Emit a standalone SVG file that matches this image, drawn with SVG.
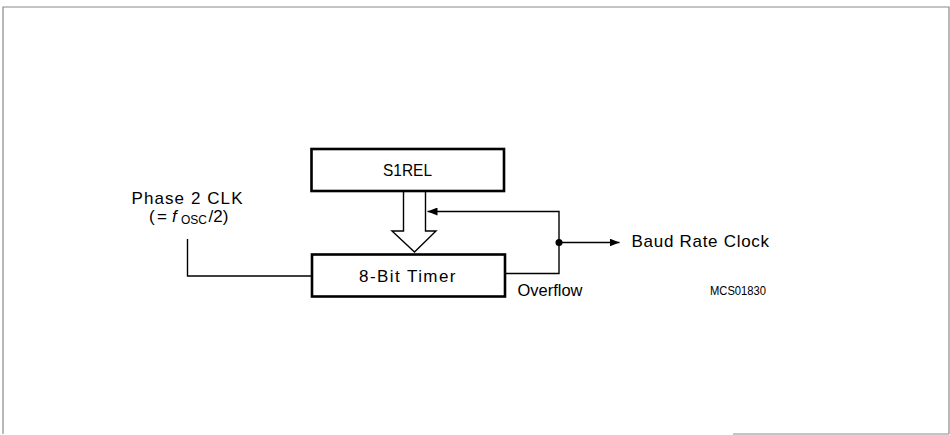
<svg xmlns="http://www.w3.org/2000/svg" width="950" height="435" viewBox="0 0 950 435">
  <defs>
    <marker id="arr" viewBox="0 0 10 8" refX="10" refY="4" markerWidth="10" markerHeight="8" markerUnits="userSpaceOnUse" orient="auto">
      <path d="M0,0 L10,4 L0,8 Z" fill="#000"/>
    </marker>
  </defs>
  <style>
    .box { fill: #fff; stroke: #000; stroke-width: 2.6; }
    .wire { fill: none; stroke: #000; stroke-width: 1.4; }
    .lbl { font-family: "Liberation Sans", Arial, sans-serif; font-size: 17px; fill: #000; }
    .frame { fill: none; stroke: #8a8a8a; stroke-width: 1.2; }
  </style>
  <rect width="950" height="435" fill="#fff"/>
  <!-- frame -->
  <path class="frame" d="M3,434 L3,7 L949,7 L949,434 M733,434 L949,434"/>

  <g id="s1rel">
    <rect class="box" x="311.5" y="149" width="192.5" height="42"/>
    <text class="lbl" x="383" y="176" textLength="49" lengthAdjust="spacingAndGlyphs">S1REL</text>
  </g>

  <g id="timer">
    <rect class="box" x="312" y="254.5" width="193" height="42"/>
    <text class="lbl" x="359" y="281.5" textLength="96.5" lengthAdjust="spacing">8-Bit Timer</text>
  </g>

  <g id="phase-clk">
    <text class="lbl" x="131.5" y="204" textLength="111" lengthAdjust="spacing">Phase 2 CLK</text>
    <text class="lbl" y="221.5"><tspan x="149">(</tspan><tspan x="157">=</tspan><tspan x="172" font-style="italic">f</tspan><tspan x="181" y="223.5" style="font-size:12px">OSC</tspan><tspan x="208.5" y="221.5">/2)</tspan></text>
  </g>

  <g id="baud">
    <text class="lbl" x="631.5" y="246.5" textLength="137.5" lengthAdjust="spacing">Baud Rate Clock</text>
  </g>

  <g id="overflow-label">
    <text class="lbl" x="517.5" y="295.5" textLength="65" lengthAdjust="spacingAndGlyphs">Overflow</text>
  </g>

  <g id="figure-id">
    <text class="lbl" x="710" y="295" style="font-size:13.5px" textLength="56" lengthAdjust="spacingAndGlyphs">MCS01830</text>
  </g>

  <g id="connectors">
    <!-- hollow data arrow S1REL -> timer -->
    <path class="wire" stroke-width="1.6" fill="#fff" d="M403.5,191 L403.5,231 L392,231 L414.5,252 L436,231 L425.5,231 L425.5,191"/>
    <!-- phase clock line -->
    <path class="wire" d="M187.5,239 L187.5,276 L311,276"/>
    <!-- overflow feedback -->
    <path class="wire" d="M505,273.5 L559,273.5 L559,211.5 L427.5,211.5" marker-end="url(#arr)"/>
    <!-- to baud rate clock -->
    <path class="wire" d="M559,242.5 L619.5,242.5" marker-end="url(#arr)"/>
    <circle cx="559" cy="242.5" r="3.5" fill="#000"/>
  </g>
</svg>
